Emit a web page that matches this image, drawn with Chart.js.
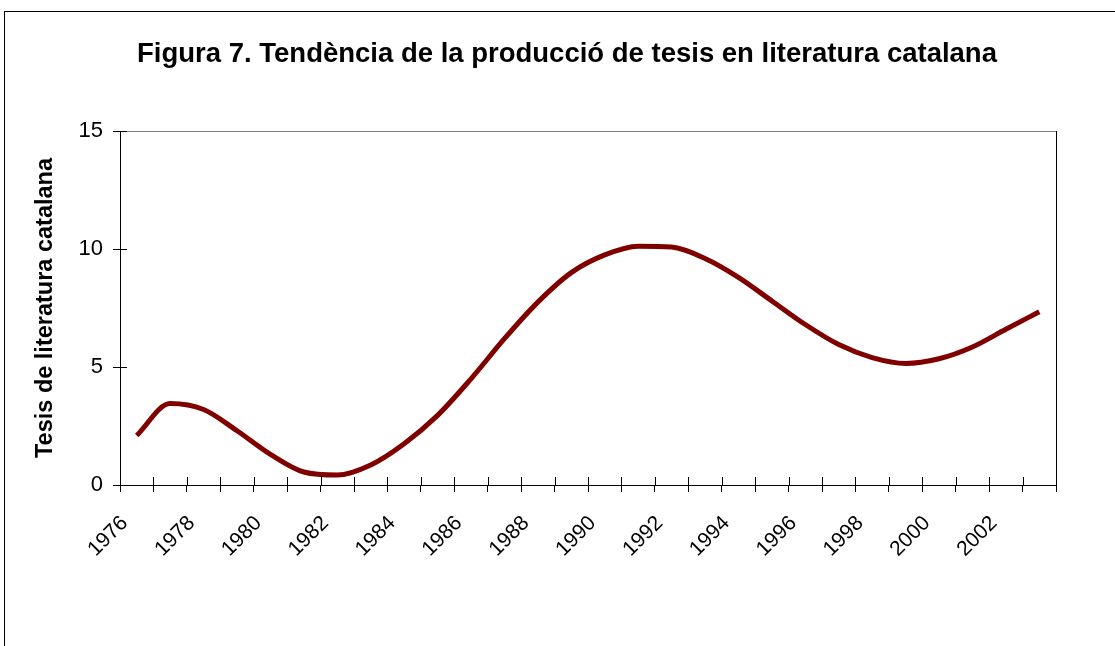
<!DOCTYPE html>
<html>
<head>
<meta charset="utf-8">
<script src="https://cdn.jsdelivr.net/npm/chart.js@4.4.1/dist/chart.umd.min.js"></script>
<style>
  html, body { margin: 0; padding: 0; background: #fff; }
  #wrap { position: absolute; left: 0; top: 0; width: 1115px; height: 646px; }
</style>
</head>
<body>
<div id="wrap"><canvas id="chart"></canvas></div>
<script>
// data
const years = ["1976", "1977", "1978", "1979", "1980", "1981", "1982", "1983", "1984", "1985",
               "1986", "1987", "1988", "1989", "1990", "1991", "1992", "1993", "1994", "1995",
               "1996", "1997", "1998", "1999", "2000", "2001", "2002", "2003"];
const tesis = [2.1, 3.45, 3.2, 2.3, 1.3, 0.55, 0.42, 0.85, 1.75, 2.95,
               4.5, 6.2, 7.75, 9.0, 9.75, 10.12, 10.08, 9.6, 8.8, 7.8,
               6.8, 5.95, 5.4, 5.15, 5.35, 5.85, 6.6, 7.34];
const yTicks = [0, 5, 10, 15];
const titleText = 'Figura 7. Tendència de la producció de tesis en literatura catalana';

const FONT = "'Liberation Sans', Arial, sans-serif";

// outer frame, title, plot frame and the inner half of the tick marks
const frame = {
  id: 'frame',
  beforeDraw(chart) {
    const c = chart.ctx;
    c.save();
    c.strokeStyle = '#000';
    c.lineWidth = 1;
    c.strokeRect(4.5, 11.5, 1300, 900);
    c.fillStyle = '#000';
    c.font = 'bold 27.5px ' + FONT;
    c.textAlign = 'center';
    c.textBaseline = 'alphabetic';
    c.fillText(titleText, 567, 62);
    c.restore();
  },
  afterDatasetsDraw(chart) {
    const c = chart.ctx;
    const a = chart.chartArea;
    const xs = chart.scales.x;
    const ys = chart.scales.y;
    c.save();
    c.lineWidth = 1;
    c.strokeStyle = '#808080';
    c.beginPath();
    c.moveTo(a.left, a.top + 0.5);
    c.lineTo(a.right, a.top + 0.5);
    c.stroke();
    c.strokeStyle = '#000';
    c.beginPath();
    c.moveTo(Math.round(a.right) + 0.5, a.top);
    c.lineTo(Math.round(a.right) + 0.5, a.bottom);
    c.stroke();
    c.beginPath();
    const n = years.length;
    for (let i = 0; i <= n; i++) {
      let px;
      if (i === 0) px = a.left;
      else if (i === n) px = a.right;
      else px = (xs.getPixelForValue(i - 1) + xs.getPixelForValue(i)) / 2;
      px = Math.round(px) + 0.5;
      c.moveTo(px, a.bottom);
      c.lineTo(px, a.bottom - 8);
    }
    yTicks.forEach(v => {
      const py = Math.round(ys.getPixelForValue(v)) + 0.5;
      c.moveTo(a.left, py);
      c.lineTo(a.left + 7, py);
    });
    c.stroke();
    c.restore();
  }
};

new Chart(document.getElementById('chart'), {
  type: 'line',
  data: {
    labels: years,
    datasets: [{
      data: tesis,
      borderColor: '#800000',
      borderWidth: 5,
      pointRadius: 0,
      cubicInterpolationMode: 'monotone',
      fill: false
    }]
  },
  options: {
    responsive: true,
    maintainAspectRatio: false,
    animation: false,
    layout: { padding: { left: 0, right: 59, top: 131, bottom: 0 } },
    plugins: {
      legend: { display: false },
      tooltip: { enabled: false },
      title: { display: false }
    },
    scales: {
      x: {
        type: 'category',
        offset: true,
        grid: { display: true, offset: true, drawOnChartArea: false, drawTicks: true,
                tickLength: 7, color: '#000' },
        border: { display: true, color: '#000', width: 1 },
        ticks: {
          autoSkip: false,
          maxRotation: 45,
          minRotation: 45,
          padding: 19,
          labelOffset: -12,
          color: '#000',
          font: { family: FONT, size: 21 },
          callback: function (val, idx) { return idx % 2 === 0 ? years[idx] : ''; }
        },
        afterFit(scale) { scale.height = 161; }
      },
      y: {
        min: 0,
        max: 15,
        grid: { display: true, drawOnChartArea: false, drawTicks: true, tickLength: 7, color: '#000' },
        border: { display: true, color: '#000', width: 1 },
        afterBuildTicks(scale) { scale.ticks = yTicks.map(v => ({ value: v })); },
        ticks: {
          padding: 10,
          color: '#000',
          font: { family: FONT, size: 22 }
        },
        title: {
          display: true,
          text: 'Tesis de literatura catalana',
          color: '#000',
          font: { family: FONT, size: 23.5, weight: 'bold', lineHeight: 1.2 },
          padding: { top: 31, bottom: 0 }
        },
        afterFit(scale) { scale.width = 120; }
      }
    }
  },
  plugins: [frame]
});
</script>
</body>
</html>
